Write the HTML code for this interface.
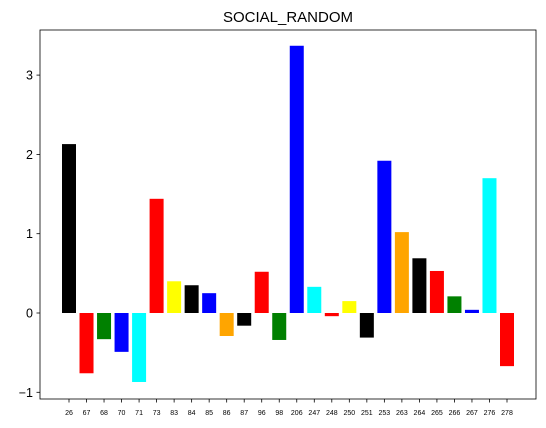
<!DOCTYPE html>
<html><head><meta charset="utf-8"><style>
body{margin:0;background:#fff;}
svg{display:block;font-family:"Liberation Sans","DejaVu Sans",sans-serif;}
</style></head><body>
<svg id="chart" width="546" height="428">
<text x="288" y="22" text-anchor="middle" font-size="15">SOCIAL_RANDOM</text>
<g id="bars"></g><g id="axes"></g>
</svg>
<script>
const categories=["26","67","68","70","71","73","83","84","85","86","87","96","98","206","247","248","250","251","253","263","264","265","266","267","276","278"];
const values=[2.13,-0.76,-0.33,-0.49,-0.87,1.44,0.40,0.35,0.25,-0.29,-0.16,0.52,-0.34,3.37,0.33,-0.04,0.15,-0.31,1.92,1.02,0.69,0.53,0.21,0.04,1.70,-0.67];
const yTicks=[-1,0,1,2,3];
const colors=["#000","#f00","#008000","#00f","#0ff","#f00","#ff0","#000","#00f","#ffa500","#000","#f00","#008000","#00f","#0ff","#f00","#ff0","#000","#00f","#ffa500","#000","#f00","#008000","#00f","#0ff","#f00"];
const NS="http://www.w3.org/2000/svg";
const L=40,R=536,T=30,B=399;
const y=v=>313-v*79.3;
const pad=29;
const step=(R-L-2*pad)/(categories.length-1);
const x=i=>L+pad+step*i;
const bw=14;
const bars=document.getElementById('bars'),axes=document.getElementById('axes');
function mk(tag,attrs,parent){const e=document.createElementNS(NS,tag);for(const k in attrs)e.setAttribute(k,attrs[k]);parent.appendChild(e);return e;}
values.forEach((v,i)=>{
  const r=mk('rect',{x:x(i)-bw/2,y:Math.min(y(v),y(0)),width:bw,height:Math.abs(y(v)-y(0)),fill:colors[i%colors.length]},bars);
  
  
  mk('line',{x1:x(i),x2:x(i),y1:B,y2:B+3.5,stroke:'#000','stroke-width':0.8},axes);
  const t=mk('text',{x:x(i),y:B+16,'text-anchor':'middle','font-size':7},axes);
  t.textContent=categories[i];
  
  
});
yTicks.forEach(v=>{
  mk('line',{x1:L-3.5,x2:L,y1:y(v),y2:y(v),stroke:'#000','stroke-width':0.8},axes);
  const t=mk('text',{x:L-7,y:y(v)+4.5,'text-anchor':'end','font-size':12.5},axes);
  t.textContent=v<0?'\u2212'+Math.abs(v):v;
  
  
});
const f=mk('rect',{x:L,y:T,width:R-L,height:B-T,fill:'none',stroke:'#000','stroke-width':0.8},axes);


</script>
</body></html>
